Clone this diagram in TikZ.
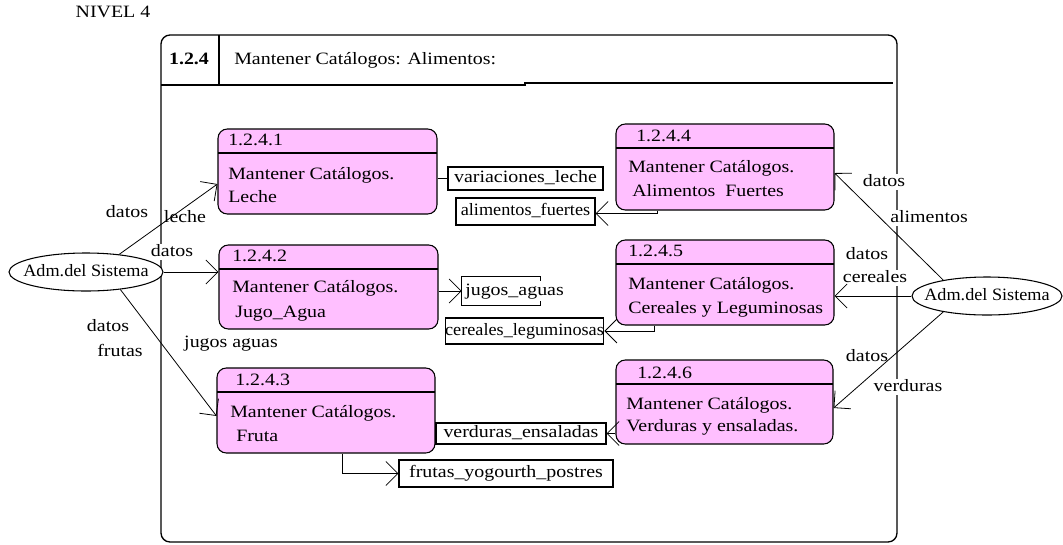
\documentclass[tikz,border=0pt]{standalone}
\usepackage{fontspec}
\setmainfont{Liberation Serif}[FakeStretch=1.15]
\newfontfamily\narrowf{Liberation Serif}[FakeStretch=1.05]
\usetikzlibrary{arrows.meta,shapes.geometric}
\definecolor{procpink}{RGB}{255,191,255}
\newcommand\mkproc[6]{%
  \node[procbox, minimum width={(#4-#2)*0.75pt}, minimum height={(#5-#3)*0.75pt}] (#1) at ({(#2+#4)/2},{(#3+#5)/2}) {};
  \draw[line width=0.8pt] (#2,#6) -- (#4,#6);}
\begin{document}
\begin{tikzpicture}[x=0.75pt,y=-0.75pt, font=\fontsize{13}{15}\selectfont,
  every node/.style={text height=9pt, text depth=2.7pt},
  procbox/.style={draw, line width=0.8pt, fill=procpink, rounded corners=7pt, inner sep=0pt},
  storebox/.style={draw, line width=0.8pt, fill=white, inner sep=0pt},
  ent/.style={draw, ellipse, line width=0.8pt, fill=white, inner sep=0pt},
  lbl/.style={inner sep=0.5pt},
  wlbl/.style={fill=white, inner sep=0.5pt},
  txt/.style={anchor=west, inner sep=0pt},
  flow/.style={line width=0.6pt, -{Straight Barb[length=9pt,width=18pt]}},
  plain/.style={line width=0.6pt}]
\useasboundingbox (0,0) rectangle (1063,544);

% frame
\draw[line width=1pt, rounded corners=6.75pt] (161,35) rectangle (897,542);
\draw[line width=1pt] (219,35) -- (219,85);
\draw[line width=1pt] (161,85) -- (525,85) -- (525,83) -- (893,83);
\node[font=\fontsize{13}{15}\selectfont\bfseries] (t0) at (189,60) {1.2.4};
\node[txt] (t1) at (234,60) {Mantener Catálogos: Alimentos:};
\node (niv) at (113,13) {NIVEL 4};

% labels
\node[lbl] (la1) at (127,213) {datos};
\node[wlbl] (la2) at (185,218) {leche};
\node[wlbl] (la3) at (172,252) {datos};
\node[lbl] (la4) at (108,327) {datos};
\node[lbl] (la5) at (120,352) {frutas};
\node[lbl] (la6) at (231,343) {jugos aguas};
\node[wlbl] (lb1) at (884,182) {datos};
\node[wlbl] (lb2) at (929,218) {alimentos};
\node[lbl] (lb3) at (867,255) {datos};
\node[wlbl] (lb4) at (875,278) {cereales};
\node[lbl] (lb5) at (867,357) {datos};
\node[wlbl] (lb6) at (908,387) {verduras};

% external entities
\node[ent, minimum width={154*0.75pt}, minimum height={38*0.75pt}] (L) at (86,272) {};
\node[inner sep=0pt] (Lt) at (86,272) {\narrowf Adm.del Sistema};
\node[ent, minimum width={150*0.75pt}, minimum height={38*0.75pt}] (R) at (987,296) {};
\node[inner sep=0pt] (Rt) at (987,296) {\narrowf Adm.del Sistema};

% processes
\mkproc{p1}{218}{129}{437}{214}{153}
\mkproc{p2}{219}{245}{438}{329}{269}
\mkproc{p3}{217}{368}{435}{453}{392}
\mkproc{p4}{616}{124}{834}{210}{148}
\mkproc{p5}{616}{240}{834}{325}{264}
\mkproc{p6}{616}{360}{833}{444}{384}

\node[txt] (p1n) at (228,141) {1.2.4.1};
\node[txt] (p1a) at (228,175) {Mantener Catálogos.};
\node[txt] (p1b) at (228,198) {Leche};
\node[txt] (p2n) at (232,257) {1.2.4.2};
\node[txt] (p2a) at (232,288) {Mantener Catálogos.};
\node[txt] (p2b) at (235,313) {Jugo\_Agua};
\node[txt] (p3n) at (235,381) {1.2.4.3};
\node[txt] (p3a) at (230,413) {Mantener Catálogos.};
\node[txt] (p3b) at (236,437) {Fruta};
\node[txt] (p4n) at (636,137) {1.2.4.4};
\node[txt] (p4a) at (628,168) {Mantener Catálogos.};
\node[txt] (p4b) at (632,192) {Alimentos\ \ Fuertes};
\node[txt] (p5n) at (628,252) {1.2.4.5};
\node[txt] (p5a) at (628,285) {Mantener Catálogos.};
\node[txt] (p5b) at (628,309) {Cereales y Leguminosas};
\node[txt] (p6n) at (637,374) {1.2.4.6};
\node[txt] (p6a) at (626,405) {Mantener Catálogos.};
\node[txt] (p6b) at (626,427) {Verduras y ensaladas.};

% data stores
\node[storebox, minimum width={155*0.75pt}, minimum height={23*0.75pt}] (s1) at (525.5,178.5) {variaciones\_leche};
\node[storebox, minimum width={139*0.75pt}, minimum height={27*0.75pt}] (s2) at (525.5,211.5) {\narrowf alimentos\_fuertes};
\node[inner sep=0pt, minimum width={78*0.75pt}, minimum height={28*0.75pt}] (s3) at (501,291) {};
\draw[line width=0.8pt] ([yshift=-3pt]s3.north east) -- (s3.north east) -- (s3.north west) -- (s3.south west) -- (s3.south east) -- ([yshift=3pt]s3.south east);
\node[txt] (s3t) at (465,291) {jugos\_aguas};
\node[storebox, minimum width={157*0.75pt}, minimum height={26*0.75pt}] (s4) at (524.5,331) {\narrowf cereales\_leguminosas};
\node[storebox, minimum width={170*0.75pt}, minimum height={21*0.75pt}] (s5) at (521,433.5) {verduras\_ensaladas};
\node[storebox, minimum width={214*0.75pt}, minimum height={27*0.75pt}] (s6) at (506,473.5) {frutas\_yogourth\_postres};

% connectors
\draw[flow] (L.28) -- ([yshift=-9.4pt]p1.west);
\draw[flow] (L.east) -- (L.east -| p2.west);
\draw[flow] (L.-27) -- ([yshift=-4.1pt]p3.west);
\draw[flow] (R.160) -- ([yshift=-4.5pt]p4.east);
\draw[flow] (R.west) -- (R.west -| p5.east);
\draw[flow] (R.200) -- ([yshift=-4.5pt]p6.east);

\draw[plain] (s1.west -| p1.east) -- (s1.west);
\draw[flow] ([xshift=-51pt]p4.south) |- ([yshift=-1.5pt]s2.east);
\draw[flow] (s3.west -| p2.east) -- (s3.west);
\draw[flow] ([xshift=-53.25pt]p5.south) |- (s4.east);
\draw[flow] (s5.east -| p6.west) -- (s5.east);
\draw[flow] ([xshift=12pt]p3.south) |- (s6.west);
\end{tikzpicture}
\end{document}
